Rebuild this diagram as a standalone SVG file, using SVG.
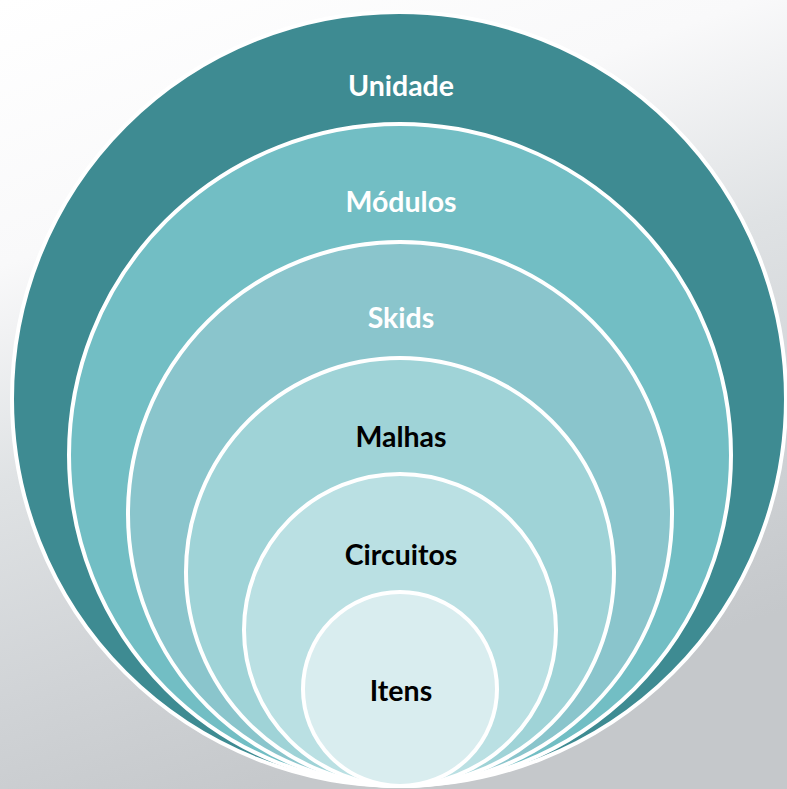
<svg xmlns="http://www.w3.org/2000/svg" width="787" height="789" viewBox="0 0 787 789">
<defs>
<linearGradient id="bg" x1="0" y1="0" x2="0.35" y2="1">
<stop offset="0" stop-color="#ffffff"/>
<stop offset="0.3" stop-color="#f9f9fa"/>
<stop offset="0.55" stop-color="#dfe2e4"/>
<stop offset="0.8" stop-color="#d0d3d6"/>
<stop offset="1" stop-color="#c5c8cb"/>
</linearGradient>
<style>
.ring{stroke:#ffffff;stroke-width:4}
.lbl{font-family:Lato,"Liberation Sans","Noto Sans",sans-serif;font-weight:bold;font-size:28.5px;text-anchor:middle}
.w{fill:#ffffff}
.k{fill:#000000}
</style>
</defs>
<rect x="0" y="0" width="787" height="789" fill="url(#bg)"/>
<g id="unidade">
<circle class="ring" cx="399" cy="399" r="387" fill="#3e8b92"/>
<text class="lbl w" x="401" y="96">Unidade</text>
</g>
<g id="modulos">
<circle class="ring" cx="400" cy="455" r="331" fill="#72bec4"/>
<text class="lbl w" x="401" y="212">Módulos</text>
</g>
<g id="skids">
<circle class="ring" cx="400" cy="514" r="272" fill="#8ac5cc"/>
<text class="lbl w" x="401" y="328">Skids</text>
</g>
<g id="malhas">
<circle class="ring" cx="400" cy="572" r="214" fill="#9fd3d7"/>
<text class="lbl k" x="401" y="447">Malhas</text>
</g>
<g id="circuitos">
<circle class="ring" cx="400" cy="630" r="156" fill="#bae0e3"/>
<text class="lbl k" x="401" y="565">Circuitos</text>
</g>
<g id="itens">
<circle class="ring" cx="400" cy="689" r="97" fill="#d9edef"/>
<text class="lbl k" x="401" y="701">Itens</text>
</g>
<g id="connectors"/>
</svg>
